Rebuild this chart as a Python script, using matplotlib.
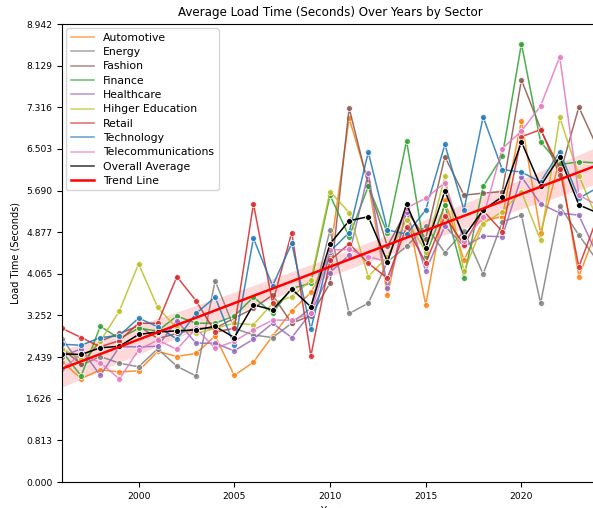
import numpy as np
import matplotlib
matplotlib.use("Agg")
from matplotlib import pyplot as plt
from matplotlib.lines import Line2D

years = np.arange(1996, 2025)

automotive = [2.35, 2.02, 2.19, 2.15, 2.17, 2.55, 2.45, 2.51, 2.85, 2.08, 2.34, 2.85, 3.34, 3.70, 4.45,
              7.10, 5.85, 3.65, 5.35, 3.46, 5.50, 4.33, 5.10, 5.18, 7.05, 4.86, 6.30, 4.01, 5.00]
energy = [2.80, 2.28, 2.45, 2.32, 2.25, 2.60, 2.26, 2.07, 3.93, 3.00, 2.87, 2.82, 3.10, 3.40, 4.92,
          3.29, 3.49, 4.30, 4.60, 5.00, 4.48, 4.90, 4.06, 5.08, 5.21, 3.49, 5.39, 4.82, 4.30]
fashion = [2.60, 2.30, 2.75, 2.90, 3.05, 2.80, 2.90, 3.00, 3.00, 3.20, 3.39, 3.65, 3.10, 3.25, 3.88,
           7.30, 5.80, 4.60, 5.30, 4.75, 6.35, 5.60, 5.64, 5.67, 7.85, 6.90, 6.00, 7.32, 6.50]
finance = [2.55, 2.07, 3.04, 2.80, 3.00, 2.95, 3.24, 3.10, 3.10, 3.24, 3.61, 3.30, 3.78, 3.88, 5.60,
           4.79, 5.77, 4.86, 6.66, 4.41, 5.41, 3.99, 5.77, 6.36, 8.56, 6.64, 6.20, 6.25, 6.23]
healthcare = [2.45, 2.60, 2.08, 2.64, 2.64, 2.65, 3.15, 2.71, 2.71, 2.56, 2.79, 3.10, 2.82, 3.30, 4.09,
              4.43, 6.03, 3.78, 5.28, 4.12, 5.00, 4.60, 4.80, 4.79, 5.96, 5.43, 5.25, 5.21, 4.40]
higher_ed = [2.60, 2.40, 2.75, 3.34, 4.26, 3.41, 3.00, 2.90, 3.00, 3.10, 3.07, 3.49, 3.62, 3.94, 5.67,
             5.26, 4.01, 4.40, 5.12, 4.50, 5.97, 4.11, 5.04, 5.28, 5.67, 4.72, 7.12, 5.98, 5.10]
retail = [3.00, 2.82, 2.64, 2.76, 3.10, 3.10, 4.01, 3.54, 2.93, 3.00, 5.43, 3.50, 4.87, 2.46, 4.33,
          4.65, 4.27, 3.98, 4.98, 4.28, 5.19, 4.63, 5.30, 4.89, 6.74, 6.88, 6.12, 4.20, 5.20]
technology = [2.69, 2.67, 2.82, 2.86, 3.20, 3.03, 2.79, 3.29, 3.61, 2.67, 4.76, 3.83, 4.66, 2.98, 4.50,
              4.87, 6.44, 4.92, 4.84, 5.31, 6.59, 5.31, 7.13, 6.10, 6.05, 5.86, 6.45, 5.54, 5.75]
telecom = [2.20, 2.50, 2.33, 2.01, 2.58, 2.77, 2.59, 3.00, 2.61, 2.75, 2.97, 3.16, 3.16, 3.29, 4.53,
           4.54, 4.40, 4.30, 5.35, 5.54, 5.84, 4.70, 5.17, 6.51, 6.85, 7.34, 8.30, 5.60, 5.40]
overall_avg = [2.50, 2.49, 2.62, 2.65, 2.88, 2.93, 2.95, 2.97, 3.04, 2.82, 3.46, 3.36, 3.77, 3.42, 4.65,
               5.10, 5.18, 4.30, 5.42, 4.57, 5.68, 4.79, 5.31, 5.57, 6.64, 5.78, 6.35, 5.41, 5.25]

sectors = ["Automotive", "Energy", "Fashion", "Finance", "Healthcare", "Hihger Education",
           "Retail", "Technology", "Telecommunications"]
series = [automotive, energy, fashion, finance, healthcare, higher_ed, retail, technology, telecom]
colors = ["tab:orange", "tab:gray", "tab:brown", "tab:green", "tab:purple", "tab:olive",
          "tab:red", "tab:blue", "tab:pink"]

fig = plt.figure(figsize=(5.93, 5.08), dpi=100)
ax = fig.add_axes([62 / 593, 26 / 508, 536 / 593, 458 / 508])

handles = []
for name, vals, c in zip(sectors, series, colors):
    ax.plot(years, vals, color=c, lw=1.1, alpha=0.85, marker='o', ms=4.3,
            mec='white', mew=0.6)
    handles.append(Line2D([], [], color=c, lw=1.1, alpha=0.7, label=name))

ax.plot(years, overall_avg, color='black', lw=1.1, marker='o', ms=4.3,
        mec='white', mew=0.6)
handles.append(Line2D([], [], color='black', lw=1.1, alpha=0.8, label='Overall Average'))

# trend line with 95% confidence band
y = np.array(overall_avg)
slope, intercept = np.polyfit(years, y, 1)
xs = np.linspace(years.min(), years.max(), 100)
fit = slope * xs + intercept
resid = y - (slope * years + intercept)
s = np.sqrt(np.sum(resid ** 2) / (len(y) - 2))
se = s * np.sqrt(1 / len(y) + (xs - years.mean()) ** 2 / np.sum((years - years.mean()) ** 2))
ax.fill_between(xs, fit - 2.05 * se, fit + 2.05 * se, color='red', alpha=0.15, lw=0)
ax.plot(xs, fit, color='red', lw=1.8)
handles.append(Line2D([], [], color='red', lw=1.8, label='Trend Line'))

ax.set_xlim(1996, 2024)
ax.set_ylim(0, 8.942)
ax.set_yticks(np.linspace(0, 8.942, 12))
ax.set_yticklabels(['%.3f' % t for t in np.linspace(0, 8.942, 12)])
ax.tick_params(labelsize=6.6)
ax.set_title('Average Load Time (Seconds) Over Years by Sector', fontsize=8.6)
ax.set_xlabel('Year', fontsize=7)
ax.set_ylabel('Load Time (Seconds)', fontsize=7)
ax.legend(handles=handles, loc='upper left', fontsize=7.8, handlelength=2.2,
          labelspacing=0.4, borderaxespad=0.4)

fig.savefig('out.png', dpi=100)
